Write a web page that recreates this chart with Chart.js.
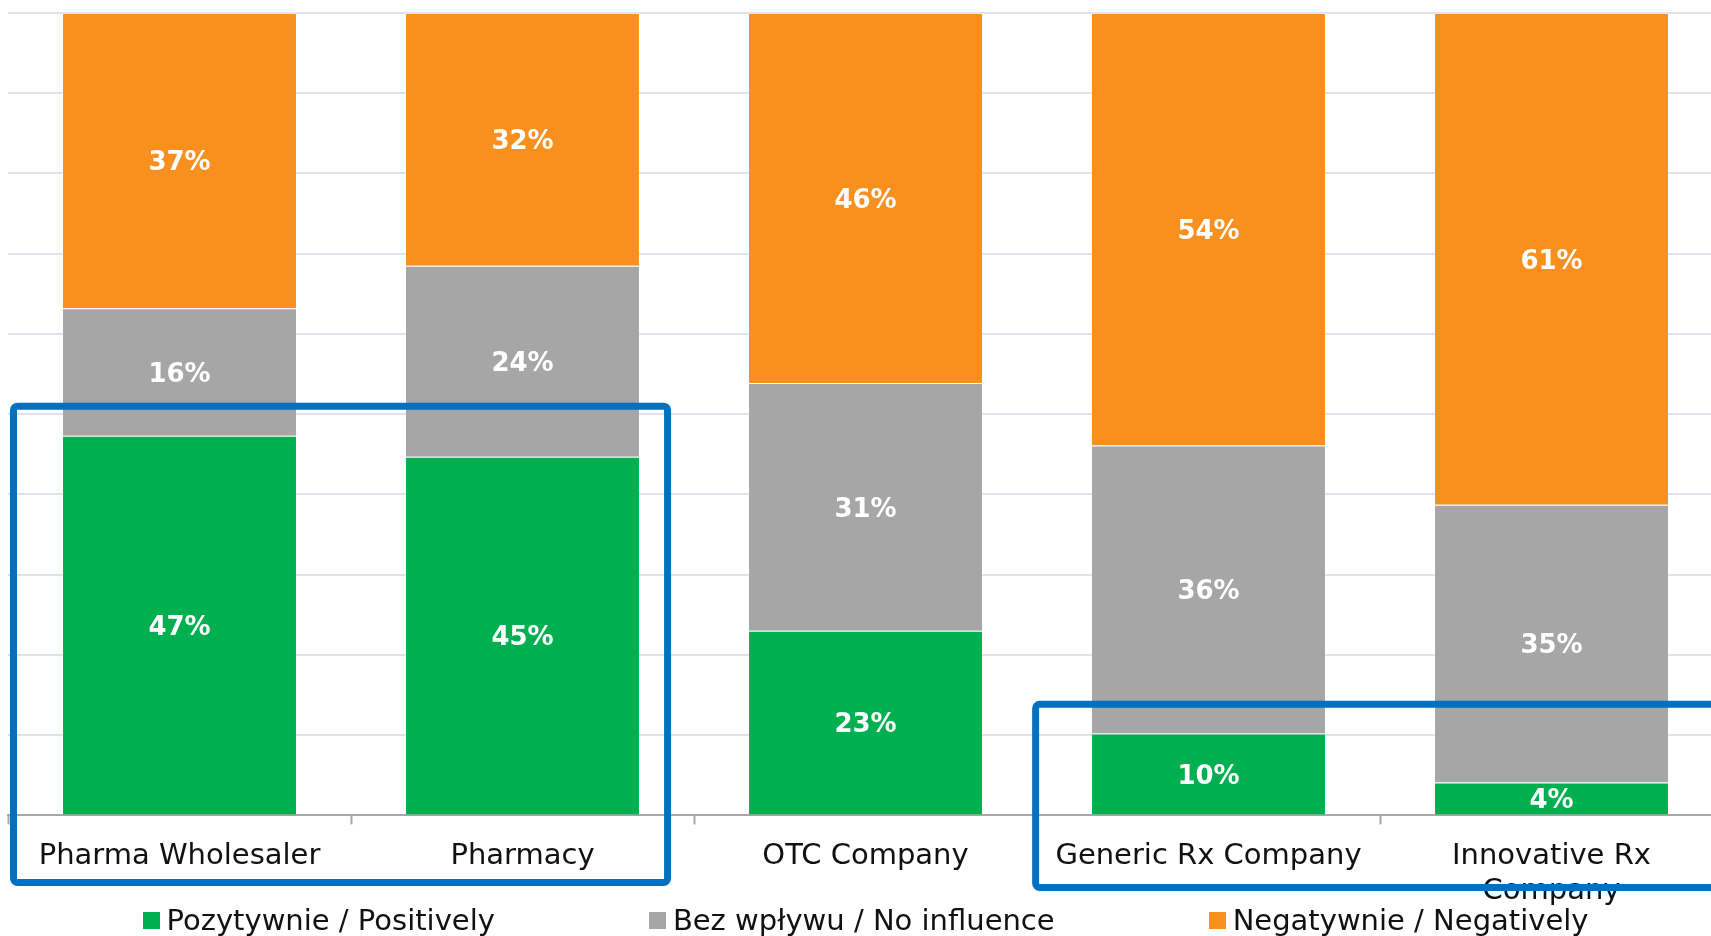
<!DOCTYPE html>
<html>
<head>
<meta charset="utf-8">
<script src="https://cdn.jsdelivr.net/npm/chart.js@4.4.1/dist/chart.umd.min.js"></script>
<style>
    html, body { margin: 0; padding: 0; overflow: hidden; background: #ffffff; }
    #wrap { position: absolute; left: 0; top: 0; width: 1724px; height: 936px; }
    #legend {
        position: absolute; left: 8px; top: 903px; width: 1715px;
        display: flex; justify-content: center; gap: 154px;
        font-family: 'DejaVu Sans', sans-serif; font-size: 29px; line-height: 34px; color: #111;
    }
    .item { display: flex; align-items: center; white-space: nowrap; }
    .swatch { width: 17px; height: 17px; margin-right: 7px; }
</style>
</head>
<body>
<div id="wrap"><canvas id="chart"></canvas></div>
<div id="legend"></div>
<script>
const categories = ['Pharma Wholesaler', 'Pharmacy', 'OTC Company', 'Generic Rx Company', ['Innovative Rx', 'Company']];
const seriesNames = ['Pozytywnie / Positively', 'Bez wpływu / No influence', 'Negatywnie / Negatively'];
const positive = [47.3, 44.7, 23.0, 10.2, 4.1];
const noInfluence = [15.9, 23.8, 30.9, 35.9, 34.6];
const negative = [36.8, 31.5, 46.1, 53.9, 61.3];
const colors = ['#00b050', '#a6a6a6', '#f7901e'];

// highlight boxes, in category index / percent units
const highlights = [
    { x0: -0.484, x1: 1.423, y0: 51.0, y1: -8.35 },
    { x0: 2.496, x1: 4.6, y0: 13.84, y1: -8.98 }
];

const fontFamily = "'DejaVu Sans', sans-serif";

const segmentLabels = {
    id: 'segmentLabels',
    afterDatasetsDraw(chart) {
        const ctx = chart.ctx;
        ctx.save();
        ctx.fillStyle = '#ffffff';
        ctx.font = `bold 26px ${fontFamily}`;
        ctx.textAlign = 'center';
        ctx.textBaseline = 'middle';
        chart.data.datasets.forEach((ds, i) => {
            const meta = chart.getDatasetMeta(i);
            meta.data.forEach((bar, j) => {
                const value = ds.data[j];
                ctx.fillText(`${Math.round(value)}%`, bar.x, (bar.y + bar.base) / 2 + 3);
            });
        });
        ctx.restore();
    }
};

const highlightBoxes = {
    id: 'highlightBoxes',
    afterDraw(chart) {
        const { ctx, scales: { x, y } } = chart;
        const step = x.getPixelForValue(1) - x.getPixelForValue(0);
        ctx.save();
        ctx.strokeStyle = '#0070c0';
        ctx.lineWidth = 7;
        ctx.lineJoin = 'round';
        highlights.forEach((h) => {
            const left = x.getPixelForValue(0) + h.x0 * step;
            const right = x.getPixelForValue(0) + h.x1 * step;
            const top = y.getPixelForValue(h.y0);
            const bottom = y.getPixelForValue(h.y1);
            ctx.beginPath();
            ctx.roundRect(left, top, right - left, bottom - top, 4);
            ctx.stroke();
        });
        ctx.restore();
    }
};

const datasets = [positive, noInfluence, negative].map((values, i) => ({
    label: seriesNames[i],
    data: values,
    backgroundColor: colors[i],
    borderColor: 'rgba(255, 255, 255, 0.2)',
    borderWidth: 1,
    categoryPercentage: 1,
    barPercentage: 0.685
}));

new Chart(document.getElementById('chart').getContext('2d'), {
    type: 'bar',
    data: { labels: categories, datasets },
    options: {
        responsive: true,
        maintainAspectRatio: false,
        animation: false,
        layout: {
            padding: { left: 8, right: 1, top: 13, bottom: 12 }
        },
        plugins: {
            legend: { display: false },
            tooltip: { enabled: false }
        },
        scales: {
            x: {
                stacked: true,
                ticks: {
                    color: '#111111',
                    padding: 15,
                    maxRotation: 0,
                    autoSkip: false,
                    font: { family: fontFamily, size: 29, lineHeight: 1.2 }
                },
                grid: {
                    offset: true,
                    drawOnChartArea: false,
                    drawTicks: true,
                    tickLength: 9,
                    tickColor: '#a6a6a6',
                    tickWidth: 2
                },
                border: { display: true, color: '#a6a6a6', width: 2 }
            },
            y: {
                stacked: true,
                min: 0,
                max: 100,
                ticks: { display: false, stepSize: 10 },
                grid: { color: '#e3e0ec', lineWidth: 2, drawTicks: false },
                border: { display: false }
            }
        }
    },
    plugins: [segmentLabels, highlightBoxes]
});

const legend = document.getElementById('legend');
seriesNames.forEach((name, i) => {
    const item = document.createElement('div');
    item.className = 'item';
    const swatch = document.createElement('span');
    swatch.className = 'swatch';
    swatch.style.background = colors[i];
    const text = document.createElement('span');
    text.textContent = name;
    item.appendChild(swatch);
    item.appendChild(text);
    legend.appendChild(item);
});
</script>
</body>
</html>
